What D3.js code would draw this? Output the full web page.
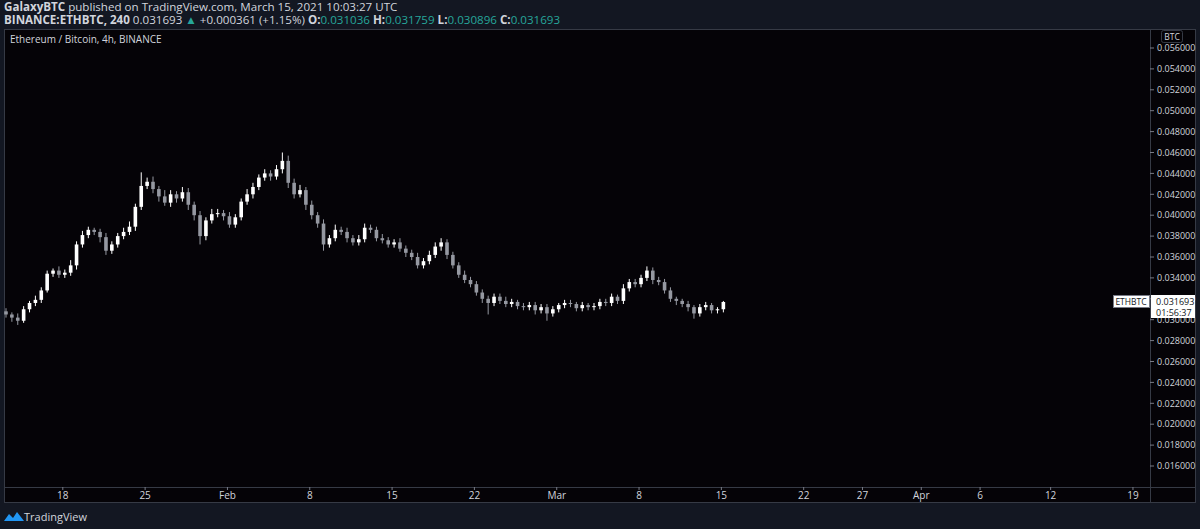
<!DOCTYPE html>
<html><head><meta charset="utf-8">
<script src="https://cdn.jsdelivr.net/npm/d3@7"></script>
<style>body{margin:0;background:#131722;}svg{display:block;font-family:"Open Sans",sans-serif;}</style>
</head><body><div class="main"></div>
<script>
// 12h closes from Jan 13 2021
const closes = [.0305,.0302,.0299,.0310,.0316,.0319,.0328,.0344,.0347,.0343,.0345,.0352,.0372,.0381,.0386,.0384,.0379,.0366,.0372,.0380,
.0384,.0389,.0408,.0428,.0432,.0425,.0418,.0412,.0420,.0416,.0422,.0410,.0400,.0380,.0395,.0401,.0402,.0399,.0391,.0398,
.0413,.0420,.0427,.0436,.0440,.0437,.0444,.0452,.0431,.0420,.0424,.0410,.0400,.0392,.0372,.0378,.0386,.0384,.0378,.0374,
.0377,.0388,.0386,.0378,.0376,.0372,.0374,.0368,.0364,.0360,.0352,.0356,.0362,.0370,.0374,.0362,.0352,.0343,.0338,.0334,
.0326,.0320,.0316,.0322,.0318,.0315,.0317,.0313,.0312,.0314,.0309,.0312,.0306,.0310,.0314,.0316,.0315,.0311,.0314,.0312,
.0313,.0317,.0316,.0322,.0318,.0330,.0336,.0334,.0340,.0347,.0338,.0336,.0328,.0320,.0318,.0315,.0312,.0306,.0312,.0314,
.0309,.0310,.031693];
const firstOpen = 0.0308;
// wick lengths above/below body, in 0.0001 BTC
const upWick = [3,2,4,3,2,4,3,3,2,4,3,5,3,4,3,2,3,4,3,3,4,5,3,13,4,5,3,6,4,3,5,4,3,4,3,5,4,3,4,3,3,5,4,3,4,3,4,8,5,4,5,3,4,3,4,3,5,3,4,3,
4,4,3,3,4,3,3,4,3,3,4,3,4,4,4,3,3,3,4,3,3,3,3,3,3,4,3,2,3,3,3,3,3,3,2,3,3,2,3,2,3,3,3,3,2,4,3,3,3,4,3,3,3,3,2,2,3,2,3,3,2,2,1];
const dnWick = [3,4,4,2,3,3,3,2,3,3,3,3,4,3,3,3,5,4,3,3,3,3,4,3,3,4,5,3,4,4,3,5,5,8,4,3,3,4,3,3,3,3,4,3,3,4,3,4,5,4,3,5,4,4,6,3,3,3,4,3,
3,3,3,3,3,3,3,3,4,3,3,3,3,3,4,4,3,3,3,3,3,4,11,3,3,3,3,3,3,3,4,3,7,3,3,3,3,3,3,3,3,3,3,3,3,3,3,3,3,3,4,3,3,3,4,3,4,5,3,3,3,3,3];
const yTicks = [0.016,0.018,0.020,0.022,0.024,0.026,0.028,0.030,0.032,0.034,0.036,0.038,0.040,0.042,0.044,0.046,0.048,0.050,0.052,0.054,0.056];
const xTicks = [["2021-01-18","18"],["2021-01-25","25"],["2021-02-01","Feb"],["2021-02-08","8"],["2021-02-15","15"],["2021-02-22","22"],
["2021-03-01","Mar"],["2021-03-08","8"],["2021-03-15","15"],["2021-03-22","22"],["2021-03-27","27"],["2021-04-01","Apr"],["2021-04-06","6"],["2021-04-12","12"],["2021-04-19","19"]];

const W = 1200, H = 529;
const svg = d3.select(".main").append("svg").attr("width", W).attr("height", H);
svg.append("rect").attr("width", W).attr("height", H).attr("fill", "#131722");
svg.append("rect").attr("x", 4.5).attr("y", 29.5).attr("width", 1191).attr("height", 473)
   .attr("fill", "#050307").attr("stroke", "#363a45");
svg.append("line").attr("x1", 1150.5).attr("x2", 1150.5).attr("y1", 30).attr("y2", 502).attr("stroke", "#363a45");
svg.append("line").attr("x1", 5).attr("x2", 1195).attr("y1", 487.5).attr("y2", 487.5).attr("stroke", "#363a45");

const t0 = new Date(2021, 0, 13);
const x = d3.scaleTime().domain([t0, new Date(2021, 0, 18)]).range([4, 62.8]);
const y = d3.scaleLinear().domain([0.016, 0.056]).range([466, 48]);

// header
const hdr = svg.append("g").attr("font-size", 11.6).attr("fill", "#d1d4dc");
hdr.append("text").attr("x", 4).attr("y", 11).html('<tspan font-weight="bold">GalaxyBTC</tspan> published on TradingView.com, March 15, 2021 10:03:27 UTC');
const l2 = hdr.append("text").attr("x", 4).attr("y", 24);
l2.append("tspan").attr("font-weight", "bold").text("BINANCE:ETHBTC, 240 ");
l2.append("tspan").text(" 0.031693 ");
l2.append("tspan").attr("fill", "#26a69a").text("▲");
l2.append("tspan").text(" +0.000361 (+1.15%) ");
[["O:", "0.031036"], ["H:", "0.031759"], ["L:", "0.030896"], ["C:", "0.031693"]].forEach(([k, v]) => {
  l2.append("tspan").attr("font-weight", "bold").text(" " + k);
  l2.append("tspan").attr("fill", "#26a69a").text(v);
});
svg.append("text").attr("x", 10).attr("y", 43).attr("font-size", 10).attr("fill", "#d1d4dc").text("Ethereum / Bitcoin, 4h, BINANCE");

// y axis
const ya = svg.append("g").attr("font-size", 9).attr("fill", "#d1d4dc");
yTicks.forEach(v => {
  ya.append("line").attr("x1", 1150).attr("x2", 1154).attr("y1", y(v)).attr("y2", y(v)).attr("stroke", "#787b86");
  ya.append("text").attr("x", 1157).attr("y", y(v) + 3.2).text(v.toFixed(6));
});
svg.append("rect").attr("x", 1161.5).attr("y", 30.5).attr("width", 21).attr("height", 12).attr("rx", 2)
   .attr("fill", "#050307").attr("stroke", "#363a45");
svg.append("text").attr("x", 1172).attr("y", 40).attr("text-anchor", "middle").attr("font-size", 8.5).attr("fill", "#d1d4dc").text("BTC");

// x axis
const xa = svg.append("g").attr("font-size", 10).attr("fill", "#d1d4dc").attr("text-anchor", "middle");
xTicks.forEach(([d, lab]) => {
  const px = x(d3.timeParse("%Y-%m-%d")(d));
  xa.append("line").attr("x1", px).attr("x2", px).attr("y1", 487).attr("y2", 490).attr("stroke", "#787b86");
  xa.append("text").attr("x", px).attr("y", 499).text(lab);
});

// candles
const plot = svg.append("g");
closes.forEach((c, i) => {
  const o = i === 0 ? firstOpen : closes[i - 1];
  const t = new Date(t0.getTime() + i * 12 * 3600e3);
  const cx = x(t) + 2;
  const hi = Math.max(o, c) + upWick[i] * 1e-4, lo = Math.min(o, c) - dnWick[i] * 1e-4;
  const col = c >= o ? "#ffffff" : "#9598a1";
  plot.append("line").attr("x1", cx).attr("x2", cx).attr("y1", y(hi)).attr("y2", y(lo)).attr("stroke", col).attr("stroke-width", 1);
  plot.append("rect").attr("x", cx - 1.8).attr("width", 3.6)
      .attr("y", y(Math.max(o, c))).attr("height", Math.max(1, Math.abs(y(o) - y(c)))).attr("fill", col);
});

// last price label
const last = closes[closes.length - 1];
const ly = y(last);
svg.append("rect").attr("x", 1113.5).attr("y", ly - 6.5).attr("width", 36).attr("height", 12).attr("fill", "#fff").attr("stroke", "#787b86");
svg.append("text").attr("x", 1131).attr("y", ly + 3).attr("text-anchor", "middle").attr("font-size", 8.5).attr("fill", "#131722").text("ETHBTC");
svg.append("rect").attr("x", 1151).attr("y", ly - 7).attr("width", 44).attr("height", 23).attr("fill", "#fff");
svg.append("text").attr("x", 1156).attr("y", ly + 3).attr("font-size", 9).attr("fill", "#131722").text(last.toFixed(6));
svg.append("text").attr("x", 1156).attr("y", ly + 13.5).attr("font-size", 9).attr("fill", "#131722").text("01:56:37");

// footer logo
const ft = svg.append("g");
ft.append("path").attr("d", "M4,521 L9,514 L13,518 L17,512 L24,521 Z").attr("fill", "#2196f3");
ft.append("text").attr("x", 24).attr("y", 521).attr("font-size", 11).attr("fill", "#d1d4dc").text("TradingView");
</script></body></html>
